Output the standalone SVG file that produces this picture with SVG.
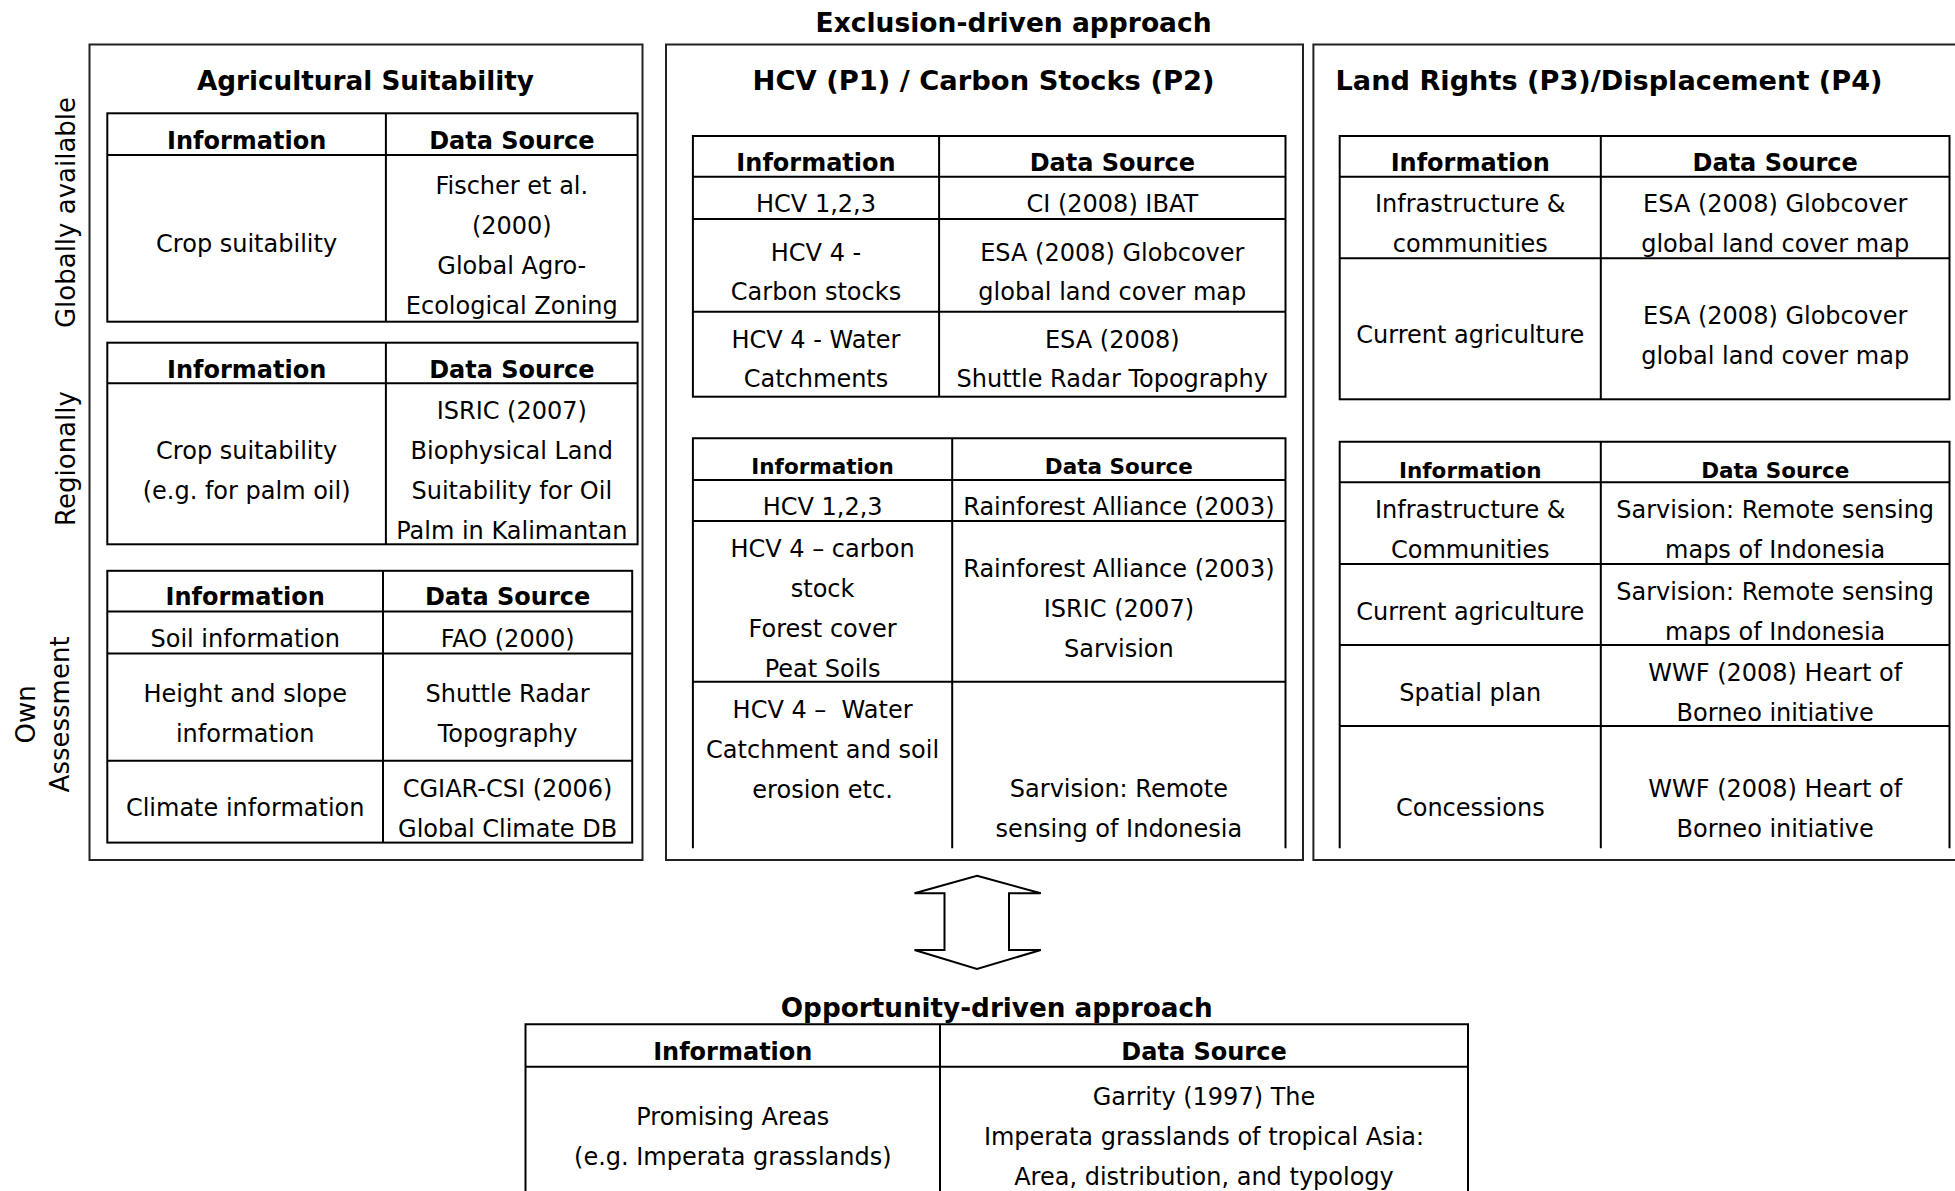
<svg xmlns="http://www.w3.org/2000/svg" width="1955" height="1191" viewBox="0 0 1955 1191">
<style>
.bg{fill:#fff}
.box{fill:none;stroke:#222;stroke-width:2}
.tb{fill:none;stroke:#000;stroke-width:2}
text{font-family:"DejaVu Sans",Verdana,sans-serif;fill:#000;text-anchor:middle}
.t{font-size:24px}
.h{font-size:24px;font-weight:bold}
.hs{font-size:21.5px;font-weight:bold}
.ti{font-size:26px;font-weight:bold}
.sd{font-size:26px}
.arrow{fill:#fff;stroke:#000;stroke-width:2;stroke-linejoin:miter}
</style>
<rect class="bg" x="0" y="0" width="1955" height="1191"/>

<text class="ti" x="1013.6" y="31.5" textLength="396" lengthAdjust="spacingAndGlyphs">Exclusion-driven approach</text>

<g id="side-labels">
<text class="sd" transform="translate(75,212.5) rotate(-90)">Globally available</text>
<text class="sd" transform="translate(75,458.5) rotate(-90)">Regionally</text>
<text class="sd" transform="translate(34.5,714.4) rotate(-90)">Own</text>
<text class="sd" transform="translate(69,714.4) rotate(-90)">Assessment</text>
</g>

<g id="agricultural-suitability">
<rect class="box" x="89.5" y="44.5" width="553" height="815.5"/>
<text class="ti" x="365.4" y="90" textLength="337" lengthAdjust="spacingAndGlyphs">Agricultural Suitability</text>
</g>

<g id="agri-global-table">
<rect class="tb" x="107.3" y="113.3" width="530.3" height="208.4"/>
<path class="tb" d="M107.3 155H637.6M385.9 113.3V321.7"/>
<text class="h" x="246.6" y="149">Information</text>
<text class="h" x="511.8" y="149">Data Source</text>
<text class="t" x="246.6" y="252.3">Crop suitability</text>
<text class="t" x="511.8" y="194">Fischer et al.</text>
<text class="t" x="511.8" y="234">(2000)</text>
<text class="t" x="511.8" y="274">Global Agro-</text>
<text class="t" x="511.8" y="314">Ecological Zoning</text>
</g>

<g id="agri-regional-table">
<rect class="tb" x="107.3" y="342.7" width="530.3" height="201.6"/>
<path class="tb" d="M107.3 383.3H637.6M385.9 342.7V544.3"/>
<text class="h" x="246.6" y="378.3">Information</text>
<text class="h" x="511.8" y="378.3">Data Source</text>
<text class="t" x="246.6" y="459">Crop suitability</text>
<text class="t" x="246.6" y="499">(e.g. for palm oil)</text>
<text class="t" x="511.8" y="419">ISRIC (2007)</text>
<text class="t" x="511.8" y="459">Biophysical Land</text>
<text class="t" x="511.8" y="499">Suitability for Oil</text>
<text class="t" x="511.8" y="539">Palm in Kalimantan</text>
</g>

<g id="agri-own-table">
<rect class="tb" x="107.3" y="570.8" width="524.9" height="271.8"/>
<path class="tb" d="M107.3 611.4H632.2M107.3 653.4H632.2M107.3 760.7H632.2M383 570.8V842.6"/>
<text class="h" x="245.2" y="605.2">Information</text>
<text class="h" x="507.6" y="605.2">Data Source</text>
<text class="t" x="245.2" y="647.2">Soil information</text>
<text class="t" x="507.6" y="647.2">FAO (2000)</text>
<text class="t" x="245.2" y="702.2">Height and slope</text>
<text class="t" x="245.2" y="742">information</text>
<text class="t" x="507.6" y="702.2">Shuttle Radar</text>
<text class="t" x="507.6" y="742">Topography</text>
<text class="t" x="245.2" y="815.7">Climate information</text>
<text class="t" x="507.6" y="797.2">CGIAR-CSI (2006)</text>
<text class="t" x="507.6" y="836.7">Global Climate DB</text>
</g>

<g id="hcv-carbon">
<rect class="box" x="666" y="44.5" width="637" height="815.5"/>
<text class="ti" x="983.5" y="90" textLength="462" lengthAdjust="spacingAndGlyphs">HCV (P1) / Carbon Stocks (P2)</text>
</g>

<g id="hcv-global-table">
<rect class="tb" x="692.9" y="136" width="592.6" height="260.7"/>
<path class="tb" d="M692.9 176.7H1285.5M692.9 219H1285.5M692.9 311.7H1285.5M939.1 136V396.7"/>
<text class="h" x="816" y="170.7">Information</text>
<text class="h" x="1112.3" y="170.7">Data Source</text>
<text class="t" x="816" y="211.7">HCV 1,2,3</text>
<text class="t" x="1112.3" y="211.7">CI (2008) IBAT</text>
<text class="t" x="816" y="260.7">HCV 4 -</text>
<text class="t" x="816" y="300">Carbon stocks</text>
<text class="t" x="1112.3" y="260.7">ESA (2008) Globcover</text>
<text class="t" x="1112.3" y="300">global land cover map</text>
<text class="t" x="816" y="347.7">HCV 4 - Water</text>
<text class="t" x="816" y="386.7">Catchments</text>
<text class="t" x="1112.3" y="347.7">ESA (2008)</text>
<text class="t" x="1112.3" y="386.7">Shuttle Radar Topography</text>
</g>

<g id="hcv-regional-table">
<path class="tb" d="M692.9 848.3V438.3H1285.5V848.3M692.9 480H1285.5M692.9 521H1285.5M692.9 681.7H1285.5M952.2 438.3V848.3"/>
<text class="hs" x="822.6" y="474">Information</text>
<text class="hs" x="1118.9" y="474">Data Source</text>
<text class="t" x="822.6" y="515">HCV 1,2,3</text>
<text class="t" x="1118.9" y="515">Rainforest Alliance (2003)</text>
<text class="t" x="822.6" y="556.7">HCV 4 – carbon</text>
<text class="t" x="822.6" y="596.5">stock</text>
<text class="t" x="822.6" y="636.7">Forest cover</text>
<text class="t" x="822.6" y="676.7">Peat Soils</text>
<text class="t" x="1118.9" y="576.5">Rainforest Alliance (2003)</text>
<text class="t" x="1118.9" y="616.7">ISRIC (2007)</text>
<text class="t" x="1118.9" y="656.5">Sarvision</text>
<text class="t" x="822.6" y="717.7">HCV 4 – &#160;Water</text>
<text class="t" x="822.6" y="757.5">Catchment and soil</text>
<text class="t" x="822.6" y="797.5">erosion etc.</text>
<text class="t" x="1118.9" y="796.7">Sarvision: Remote</text>
<text class="t" x="1118.9" y="836.7">sensing of Indonesia</text>
</g>

<g id="land-rights">
<rect class="box" x="1313.4" y="44.5" width="650" height="815.5"/>
<text class="ti" x="1609" y="90" textLength="547" lengthAdjust="spacingAndGlyphs">Land Rights (P3)/Displacement (P4)</text>
</g>

<g id="land-global-table">
<rect class="tb" x="1339.7" y="136" width="609.8" height="263.3"/>
<path class="tb" d="M1339.7 176.7H1949.5M1339.7 258.3H1949.5M1600.8 136V399.3"/>
<text class="h" x="1470.3" y="170.7">Information</text>
<text class="h" x="1775.2" y="170.7">Data Source</text>
<text class="t" x="1470.3" y="211.7">Infrastructure &amp;</text>
<text class="t" x="1470.3" y="251.7">communities</text>
<text class="t" x="1775.2" y="211.7">ESA (2008) Globcover</text>
<text class="t" x="1775.2" y="251.7">global land cover map</text>
<text class="t" x="1470.3" y="343.3">Current agriculture</text>
<text class="t" x="1775.2" y="324">ESA (2008) Globcover</text>
<text class="t" x="1775.2" y="363.5">global land cover map</text>
</g>

<g id="land-regional-table">
<path class="tb" d="M1339.7 848.3V441.7H1949.5V848.3M1339.7 482.3H1949.5M1339.7 564H1949.5M1339.7 645H1949.5M1339.7 726H1949.5M1600.8 441.7V848.3"/>
<text class="hs" x="1470.3" y="478.3">Information</text>
<text class="hs" x="1775.2" y="478.3">Data Source</text>
<text class="t" x="1470.3" y="518.3">Infrastructure &amp;</text>
<text class="t" x="1470.3" y="558.3">Communities</text>
<text class="t" x="1775.2" y="518.3">Sarvision: Remote sensing</text>
<text class="t" x="1775.2" y="558.3">maps of Indonesia</text>
<text class="t" x="1470.3" y="620">Current agriculture</text>
<text class="t" x="1775.2" y="600">Sarvision: Remote sensing</text>
<text class="t" x="1775.2" y="639.5">maps of Indonesia</text>
<text class="t" x="1470.3" y="701">Spatial plan</text>
<text class="t" x="1775.2" y="681">WWF (2008) Heart of</text>
<text class="t" x="1775.2" y="720.5">Borneo initiative</text>
<text class="t" x="1470.3" y="816">Concessions</text>
<text class="t" x="1775.2" y="796.7">WWF (2008) Heart of</text>
<text class="t" x="1775.2" y="836.7">Borneo initiative</text>
</g>

<g id="connectors">
<polygon class="arrow" points="977,875.7 1040.8,893.3 1009,893.3 1009,950 1040.8,950 977,969 914.5,950 944.5,950 944.5,893.3 914.5,893.3"/>
</g>

<g id="opportunity-driven">
<text class="ti" x="996.8" y="1017" textLength="432" lengthAdjust="spacingAndGlyphs">Opportunity-driven approach</text>
<path class="tb" d="M525.5 1200V1024.3H1468V1200M525.5 1066.7H1468M940 1024.3V1200"/>
<text class="h" x="732.8" y="1060">Information</text>
<text class="h" x="1204" y="1060">Data Source</text>
<text class="t" x="732.8" y="1125">Promising Areas</text>
<text class="t" x="732.8" y="1165">(e.g. Imperata grasslands)</text>
<text class="t" x="1204" y="1105">Garrity (1997) The</text>
<text class="t" x="1204" y="1145">Imperata grasslands of tropical Asia:</text>
<text class="t" x="1204" y="1185">Area, distribution, and typology</text>
</g>
</svg>
